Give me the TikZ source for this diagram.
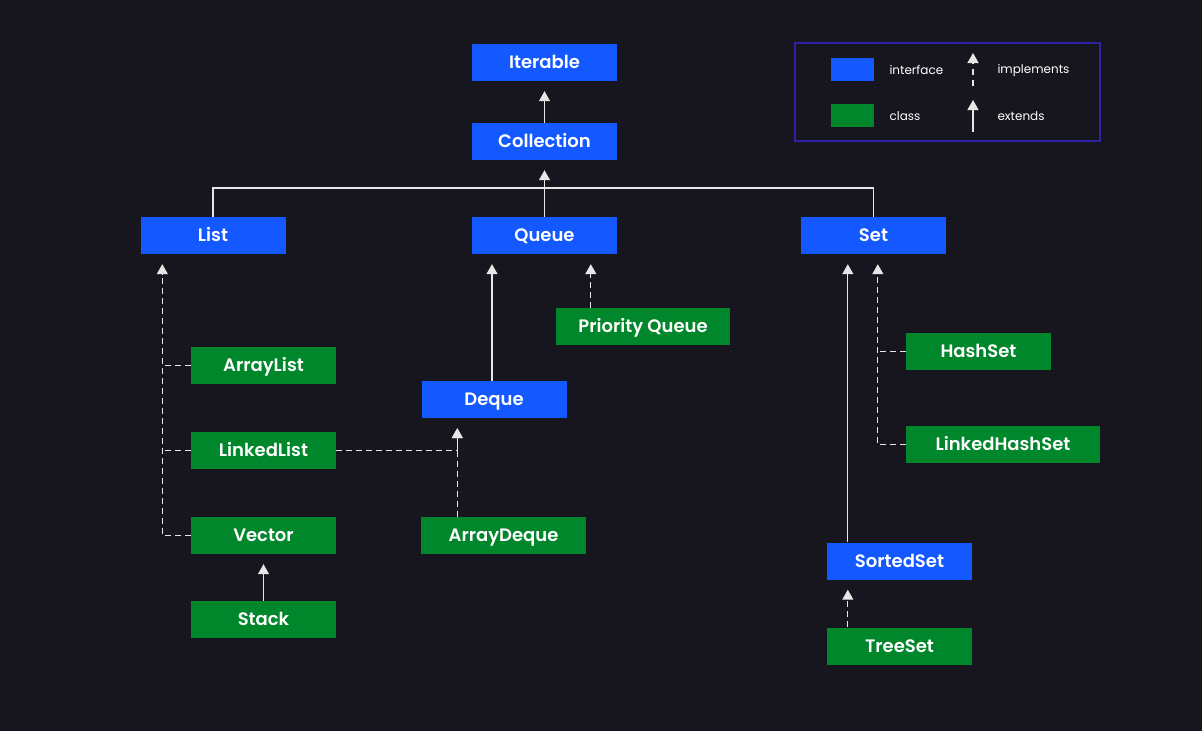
\documentclass[tikz,border=0pt]{standalone}
\usepackage{fontspec}
\setmainfont{Poppins}[BoldFont={Poppins SemiBold}]
\usetikzlibrary{arrows.meta}

\definecolor{fond}{HTML}{17161E}
\definecolor{bleu}{HTML}{1458FF}
\definecolor{vert}{HTML}{00862B}
\definecolor{cadre}{HTML}{2B22A6}
\definecolor{trait}{HTML}{E6E6E6}

\tikzset{
  boite/.style={rectangle, minimum width=145pt, minimum height=37pt, inner sep=0pt,
    text height=12.5pt, text depth=0pt,
    text=white, font=\fontsize{18}{21}\selectfont\bfseries},
  interf/.style={boite, fill=bleu},
  classe/.style={boite, fill=vert},
  lien/.style={draw=trait, line width=1.2pt},
  herite/.style={lien, -{Triangle[width=11pt,length=10pt]}, shorten >=10pt},
  impl/.style={lien, dash pattern=on 6pt off 4pt},
  implf/.style={impl, -{Triangle[width=11pt,length=10pt]}, shorten >=10pt},
  legende/.style={text=white, font=\fontsize{12}{14}\selectfont, anchor=west}
}

\begin{document}
\begin{tikzpicture}[x=1pt,y=-1pt]

% -----------------------
% Fond
% -----------------------
\fill[fond] (0,0) rectangle (1202,731);

% -----------------------
% Interfaces
% -----------------------
\node[interf] (Iterable) at (544.5,62.5) {Iterable};
\node[interf] (Collection) at (544.5,141.5) {Collection};
\node[interf] (List) at (213,235.5) {List};
\node[interf] (Queue) at (544.5,235.5) {Queue};
\node[interf] (Set) at (873.5,235.5) {Set};
\node[interf] (Deque) at (494,399.5) {Deque};
\node[interf] (SortedSet) at (899.5,561) {SortedSet};

% -----------------------
% Classes
% -----------------------
\node[classe, minimum width=174pt] (PriorityQueue) at (643,326.5) {Priority Queue};
\node[classe] (ArrayList) at (263.5,365.5) {ArrayList};
\node[classe] (LinkedList) at (263.5,450.5) {LinkedList};
\node[classe] (Vector) at (263.5,535.5) {Vector};
\node[classe] (Stack) at (263.5,619.5) {Stack};
\node[classe, minimum width=165pt] (ArrayDeque) at (503.5,535.5) {ArrayDeque};
\node[classe] (HashSet) at (978.5,351.5) {HashSet};
\node[classe, minimum width=194pt] (LinkedHashSet) at (1003,444.5) {LinkedHashSet};
\node[classe] (TreeSet) at (899.5,646) {TreeSet};

% -----------------------
% Points de raccord
% -----------------------
\coordinate (hub) at (544.5,188);
\coordinate (listeBas) at ([xshift=22pt]List.south west);
\coordinate (dequeBas) at ([xshift=36pt]Deque.south west);
\coordinate (dequeHaut) at ([xshift=-2pt]Deque.north);
\coordinate (setImpl) at ([xshift=77pt]Set.south west);
\coordinate (setExt) at ([xshift=47pt]Set.south west);

% -----------------------
% Héritage (extends)
% -----------------------
\draw[herite] (Collection.north) -- (Iterable.south);
\draw[lien] (List.north) |- (hub) -| (Set.north);
\draw[herite] (Queue.north) -- (Collection.south);
\draw[herite] (dequeHaut) -- (dequeHaut |- Queue.south);
\draw[herite] (Stack.north) -- (Vector.south);
\draw[herite] (SortedSet.north -| setExt) -- (setExt);

% -----------------------
% Réalisation (implements)
% -----------------------
\draw[implf] ([xshift=35pt]PriorityQueue.north west) -- ([xshift=35pt]PriorityQueue.north west |- Queue.south);
\draw[implf] (Vector.west) -| (listeBas);
\draw[impl] (ArrayList.west) -- (ArrayList.west -| listeBas);
\draw[impl] (LinkedList.west) -- (LinkedList.west -| listeBas);
\draw[implf] (LinkedList.east) -| (dequeBas);
\draw[implf] (ArrayDeque.north -| dequeBas) -- (dequeBas);
\draw[implf] (LinkedHashSet.west) -| (setImpl);
\draw[impl] (HashSet.west) -- (HashSet.west -| setImpl);
\draw[implf] (TreeSet.north -| setExt) -- (SortedSet.south -| setExt);

% -----------------------
% Légende
% -----------------------
\node[draw=cadre, line width=1.2pt, minimum width=305pt, minimum height=98pt, inner sep=0pt] (Legende) at (947.5,92) {};
\node[fill=bleu, minimum width=43pt, minimum height=23pt, inner sep=0pt] (cleInterf) at (852.5,69.5) {};
\node[fill=vert, minimum width=43pt, minimum height=23pt, inner sep=0pt] (cleClasse) at (852.5,115.5) {};
\node[legende] (txtInterf) at (886,70) {interface};
\node[legende] (txtClasse) at (886,116) {class};
\node[legende] (txtImpl) at (994,70) {implements};
\node[legende] (txtExt) at (994,116) {extends};
\coordinate (implBas) at (973,86);
\coordinate (implHaut) at (973,53);
\coordinate (extBas) at (973,132);
\coordinate (extHaut) at (973,100);
\draw[implf, shorten >=0pt, dash pattern=on 6pt off 5pt] (implBas) -- (implHaut);
\draw[herite, shorten >=0pt] (extBas) -- (extHaut);

\end{tikzpicture}
\end{document}
